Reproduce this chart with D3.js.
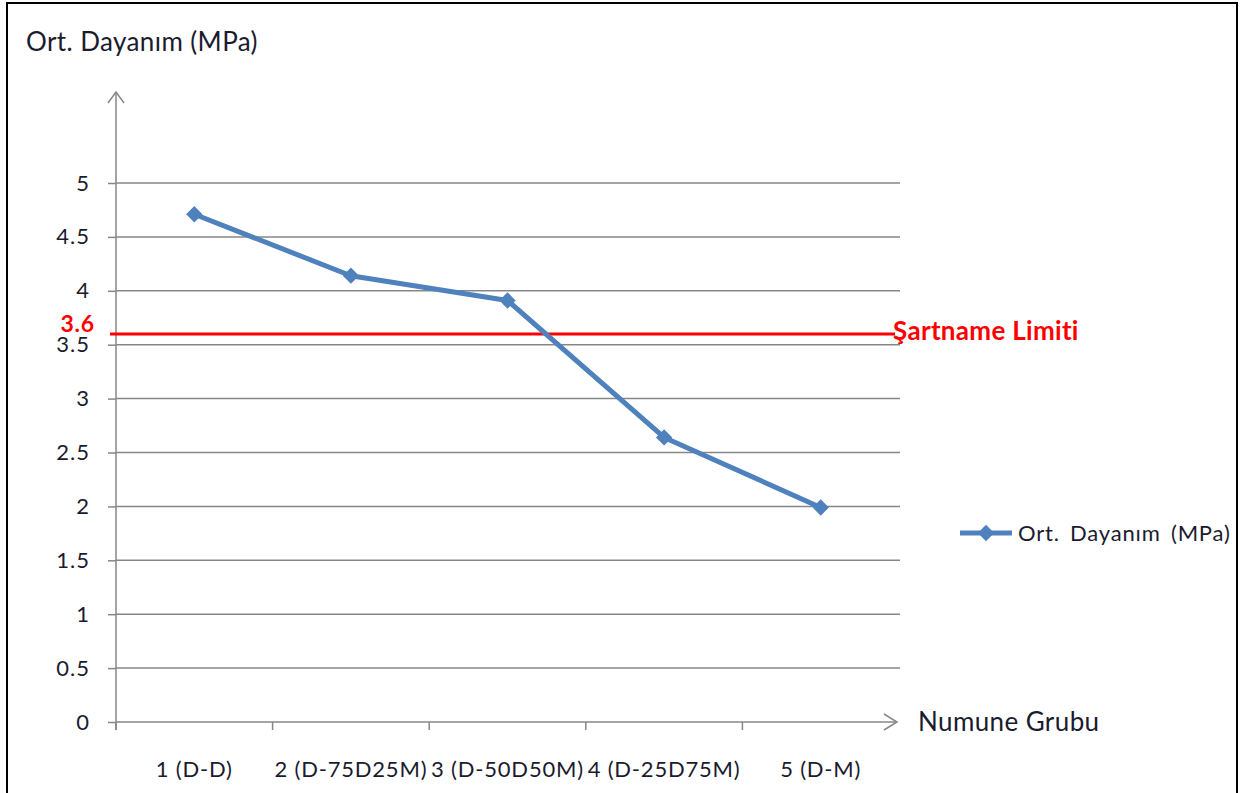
<!DOCTYPE html>
<html><head><meta charset="utf-8">
<script src="https://cdn.jsdelivr.net/npm/d3@7"></script>
<style>body{margin:0;background:#fff}svg{display:block}text{font-family:Lato,"Open Sans",sans-serif}</style>
</head><body>
<svg id="c" width="1251" height="793"></svg>
<script>
const categories = ["1 (D-D)", "2 (D-75D25M)", "3 (D-50D50M)", "4 (D-25D75M)", "5 (D-M)"];
const values = [4.71, 4.14, 3.91, 2.64, 1.99];
const yTicks = [0, 0.5, 1, 1.5, 2, 2.5, 3, 3.5, 4, 4.5, 5];
const limitValue = 3.6;
const seriesName = "Ort. Dayanım (MPa)";
const yTitle = "Ort. Dayanım (MPa)";
const xTitle = "Numune Grubu";
const limitLabel = "Şartname Limiti";

const svg = d3.select("#c");
svg.append("rect").attr("x", 7).attr("y", 3).attr("width", 1230).attr("height", 800)
  .attr("fill", "#fff").attr("stroke", "#000").attr("stroke-width", 2);

const x0 = 116, x1 = 899, yTop = 183, yBot = 722;
const x = d3.scaleBand().domain(categories).range([x0, x1]);
const y = d3.scaleLinear().domain([0, 5]).range([yBot, yTop]);
const grid = "#878787";
const ink = "#1b1b2e";

// gridlines
svg.append("g").selectAll("line").data(yTicks.filter(d => d > 0)).join("line")
  .attr("x1", x0).attr("x2", x1 + 1).attr("y1", d => y(d)).attr("y2", d => y(d))
  .attr("stroke", grid).attr("stroke-width", 1.5);

// y axis
const ya = d3.axisLeft(y).tickValues(yTicks).tickSize(8).tickPadding(18).tickFormat(d => String(d));
const gy = svg.append("g").attr("transform", `translate(${x0},0)`).call(ya);
gy.select(".domain").remove();
gy.selectAll(".tick line").attr("stroke", grid).attr("stroke-width", 1.5);
gy.selectAll(".tick text").attr("fill", ink).style("font-size", "22px")
  .style("letter-spacing", "1px").style("font-family", "Lato");
svg.append("line").attr("x1", x0).attr("x2", x0).attr("y1", 92).attr("y2", yBot + 8)
  .attr("stroke", grid).attr("stroke-width", 1.5);
svg.append("path").attr("d", `M${x0 - 8},${103} L${x0},${92} L${x0 + 8},${103}`)
  .attr("fill", "none").attr("stroke", grid).attr("stroke-width", 1.5);

// x axis
const xa = d3.axisBottom(x).tickSize(0).tickPadding(39);
const gx = svg.append("g").attr("transform", `translate(0,${yBot})`).call(xa);
gx.select(".domain").remove();
gx.selectAll(".tick text").attr("fill", ink).style("font-size", "22px")
  .style("letter-spacing", "0.8px").style("font-family", "Lato");
svg.append("line").attr("x1", x0).attr("x2", 897).attr("y1", yBot).attr("y2", yBot)
  .attr("stroke", grid).attr("stroke-width", 1.5);
svg.append("path").attr("d", `M${884},${yBot - 8} L${897},${yBot} L${884},${yBot + 8}`)
  .attr("fill", "none").attr("stroke", grid).attr("stroke-width", 1.5);
svg.append("g").selectAll("line").data(categories).join("line")
  .attr("x1", d => x(d)).attr("x2", d => x(d)).attr("y1", yBot).attr("y2", yBot + 8)
  .attr("stroke", grid).attr("stroke-width", 1.5);

// limit line
svg.append("line").attr("x1", 110).attr("x2", 895).attr("y1", y(limitValue)).attr("y2", y(limitValue))
  .attr("stroke", "#ff0000").attr("stroke-width", 3);
svg.append("text").attr("x", 95).attr("y", y(limitValue) - 2).attr("text-anchor", "end")
  .attr("fill", "#ff0000").style("font-size", "23px").style("letter-spacing", "0.8px")
  .style("font-weight", "bold").text(String(limitValue));
svg.append("text").attr("x", 893).attr("y", y(limitValue) + 6)
  .attr("fill", "#ff0000").style("font-size", "26px").style("letter-spacing", "0.3px")
  .style("font-weight", "bold").text(limitLabel);

// series
const blue = "#4f81bd";
const cx = d => x(d) + x.bandwidth() / 2;
const line = d3.line().x((d, i) => cx(categories[i])).y(d => y(d));
svg.append("path").datum(values).attr("d", line).attr("fill", "none")
  .attr("stroke", blue).attr("stroke-width", 5).attr("stroke-linejoin", "round");
const diamond = d3.symbol().type(d3.symbolDiamond2).size(170);
svg.append("g").selectAll("path").data(values).join("path")
  .attr("transform", (d, i) => `translate(${cx(categories[i])},${y(d)})`)
  .attr("d", diamond).attr("fill", blue);

// titles
svg.append("text").attr("x", 26).attr("y", 51).attr("fill", ink)
  .style("font-size", "26px").style("letter-spacing", "0.4px").text(yTitle);
svg.append("text").attr("x", 918).attr("y", 731).attr("fill", ink)
  .style("font-size", "26px").style("letter-spacing", "0.4px").text(xTitle);

// legend
svg.append("line").attr("x1", 960).attr("x2", 1012).attr("y1", 533).attr("y2", 533)
  .attr("stroke", blue).attr("stroke-width", 5);
svg.append("path").attr("transform", "translate(986,533)").attr("d", diamond).attr("fill", blue);
svg.append("text").attr("x", 1018).attr("y", 541).attr("fill", ink)
  .style("font-size", "22px").style("letter-spacing", "0.8px").style("word-spacing", "4px").text(seriesName);
</script>
</body></html>
